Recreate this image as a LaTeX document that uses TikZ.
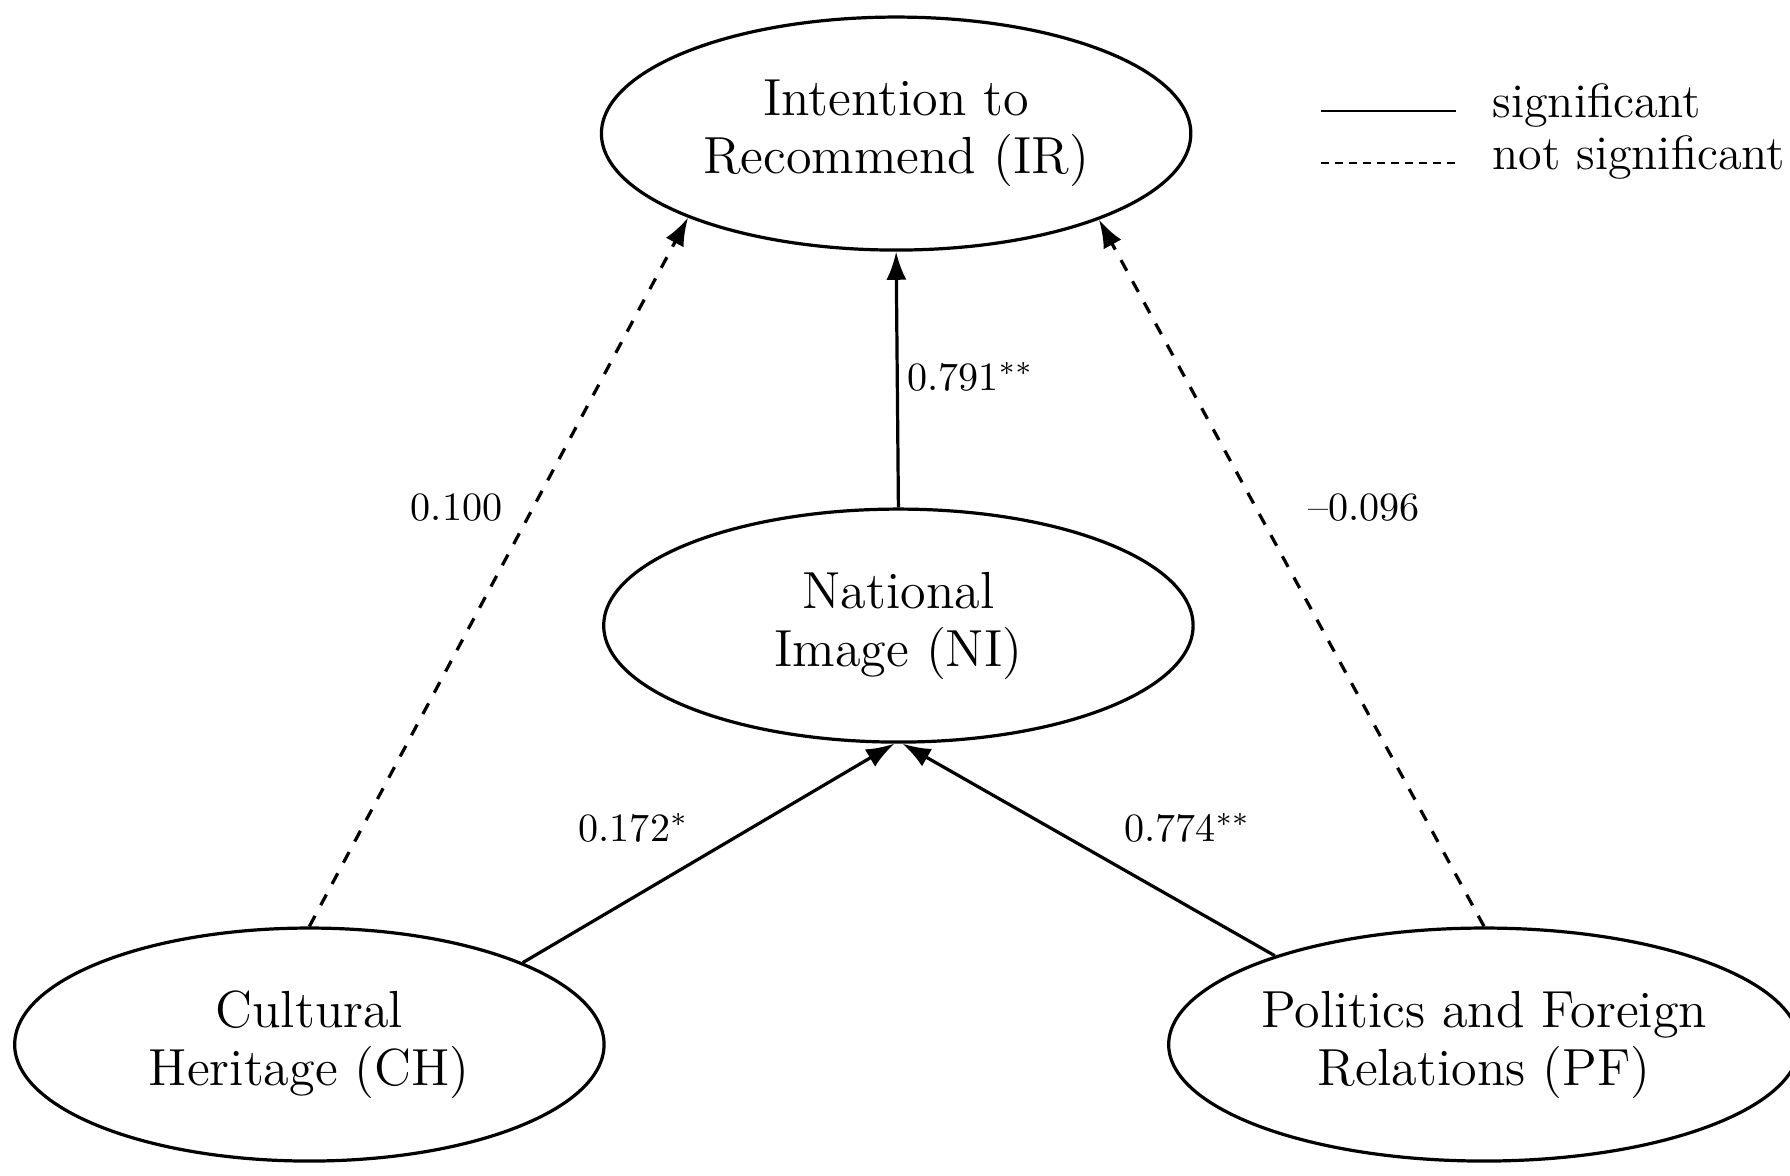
\documentclass[tikz,border=0pt]{standalone}
\usetikzlibrary{shapes.geometric,arrows.meta}
\begin{document}
\begin{tikzpicture}[x=0.01cm,y=-0.01cm,
 lat/.style={ellipse,draw,line width=0.8pt,minimum width=5.16cm,minimum height=2.04cm,align=center,font=\fontsize{13}{14.5}\selectfont,inner sep=0pt},
 arr/.style={line width=0.8pt,-{Latex[length=7pt,width=5pt]}},
 dsh/.style={arr,dashed},
 lab/.style={font=\fontsize{10}{12}\selectfont}]
\useasboundingbox (0,0) rectangle (1568,1030);
\node[lat] (IR) at (785,117) {Intention to\\Recommend (IR)};
\node[lat] (NI) at (787,548) {National\\Image (NI)};
\node[lat] (CH) at (271,915) {Cultural\\Heritage (CH)};
\node[lat] (PF) at (1300,915) {Politics and Foreign\\Relations (PF)};
\draw[arr] (NI.north) -- (IR.south);
\draw[arr] (CH.21) -- (NI.268);
\draw[arr] (PF.157.6) -- (NI.272);
\draw[dsh] (CH.north) -- (IR.202.4);
\draw[dsh] (PF.north) -- (IR.337.6);
\node[lab] (l1) at (850,330) {0.791$^{**}$};
\node[lab] (l2) at (400,445) {0.100};
\node[lab] (l3) at (1195,445) {--0.096};
\node[lab] (l4) at (555,725) {0.172$^{*}$};
\node[lab] (l5) at (1040,725) {0.774$^{**}$};
\coordinate (a1) at (1157,97); \coordinate (b1) at (1275,97);
\coordinate (a2) at (1157,143); \coordinate (b2) at (1275,143);
\draw[line width=0.6pt] (a1) -- (b1);
\draw[line width=0.6pt,dashed,dash pattern=on 2pt off 1.5pt] (a2) -- (b2);
\node[anchor=west,font=\fontsize{12}{14}\selectfont] (s1) at (1295,92) {significant};
\node[anchor=west,font=\fontsize{12}{14}\selectfont] (s2) at (1295,138) {not significant};
\end{tikzpicture}
\end{document}
